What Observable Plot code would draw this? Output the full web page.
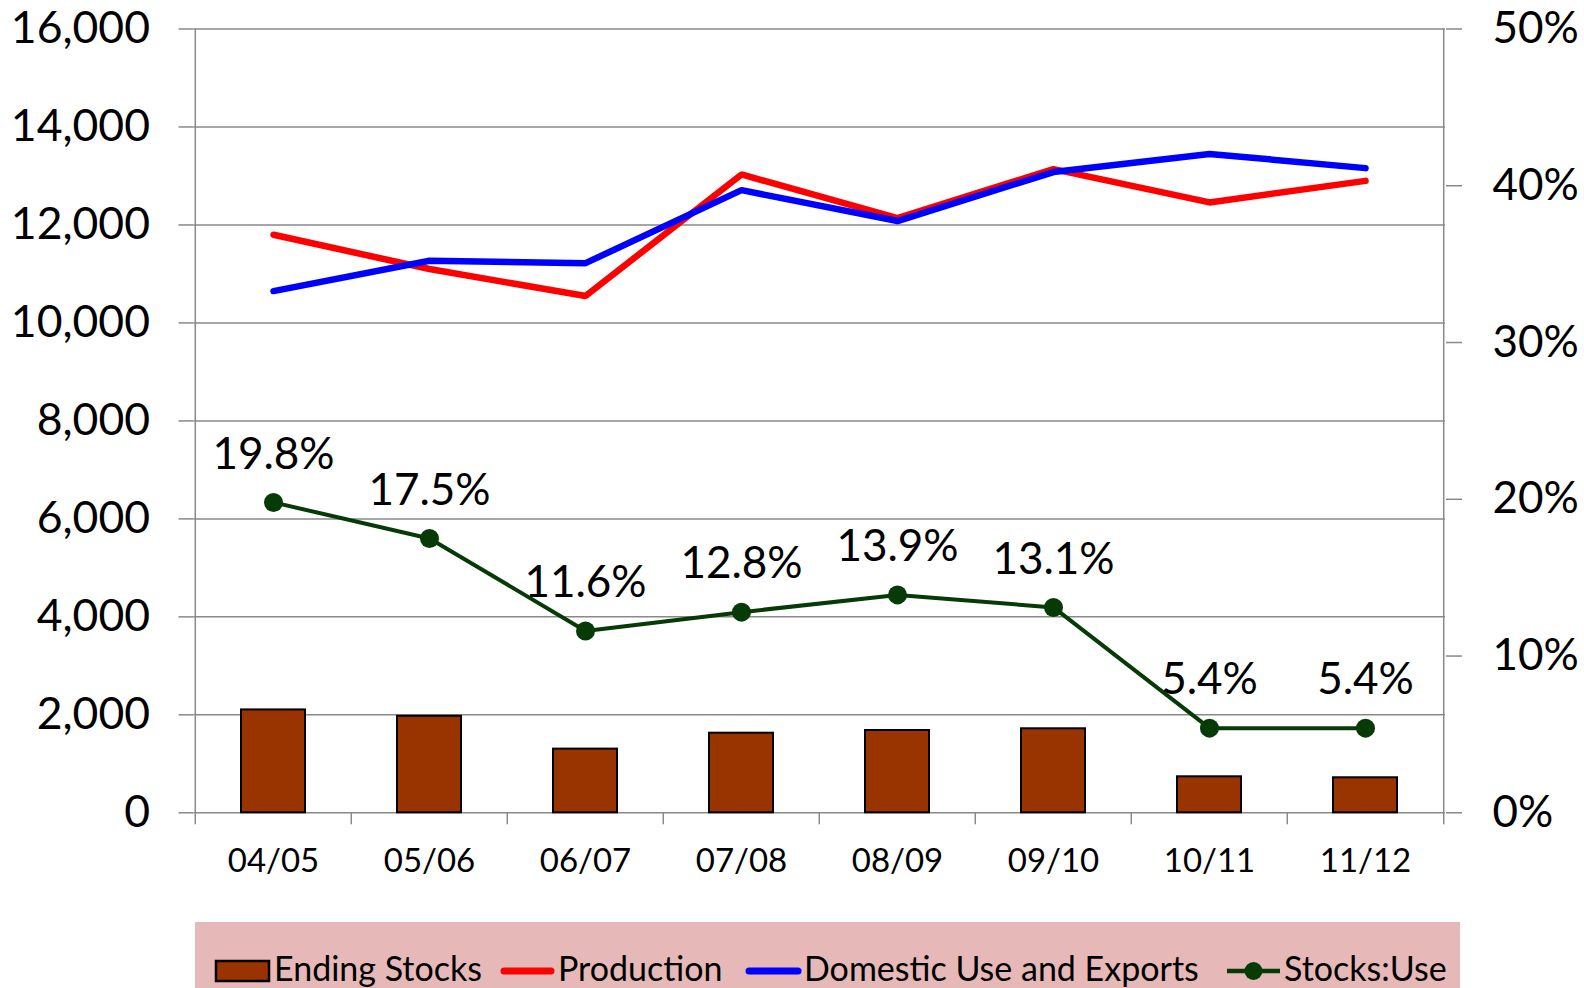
<!DOCTYPE html>
<html>
<head>
<meta charset="utf-8">
<script src="https://cdn.jsdelivr.net/npm/d3@7"></script>
<script src="https://cdn.jsdelivr.net/npm/@observablehq/plot@0.6"></script>
<style>
  html, body { margin: 0; padding: 0; background: #fff; }
  body { width: 1584px; height: 988px; overflow: hidden; position: relative; font-family: Lato, "Noto Sans", sans-serif; }
  #chart { position: absolute; left: 0; top: 0; }
  #legend { position: absolute; left: 195px; top: 922px; width: 1265px; height: 90px; background: #E6B9B8; }
  #legend svg { position: absolute; left: 0; top: 0; }
  .lt { position: absolute; top: 29px; font-size: 34px; line-height: 34px; color: #000; white-space: nowrap; }
</style>
</head>
<body>
<div id="chart"></div>
<div id="legend"></div>
<script>
// ---- data ----
const categories = ["04/05", "05/06", "06/07", "07/08", "08/09", "09/10", "10/11", "11/12"];
const endingStocks = [2100, 1970, 1300, 1625, 1680, 1715, 735, 715];
const production = [11800, 11100, 10550, 13030, 12140, 13140, 12460, 12900];
const domesticUse = [10650, 11270, 11220, 12710, 12080, 13080, 13450, 13160];
const stocksUse = [19.8, 17.5, 11.6, 12.8, 13.9, 13.1, 5.4, 5.4];
const leftTicks = [0, 2000, 4000, 6000, 8000, 10000, 12000, 14000, 16000];
const rightTicks = [0, 10, 20, 30, 40, 50];
const seriesNames = ["Ending Stocks", "Production", "Domestic Use and Exports", "Stocks:Use"];

// ---- layout ----
const W = 1584, H = 900;
const mL = 193.5, mR = 139, mT = 28.5, mB = H - 812.3;
const yMax = 16000, pMax = 50;
const k = yMax / pMax; // percent -> left-axis units
const step = (W - mL - mR) / categories.length;
const tickLenUnits = 12 / ((H - mT - mB) / yMax);
const grid = "#898989";
const green = "#063a06";

const rows = categories.map((c, i) => ({
  cat: c, stocks: endingStocks[i], prod: production[i], dom: domesticUse[i], su: stocksUse[i]
}));

const chart = Plot.plot({
  width: W, height: H,
  marginLeft: mL, marginRight: mR, marginTop: mT, marginBottom: mB,
  style: { fontFamily: "Lato, 'Noto Sans', sans-serif", background: "#fff", color: "#000", overflow: "visible" },
  x: { domain: categories, paddingInner: 0.59, paddingOuter: 0.295 },
  y: { domain: [0, yMax] },
  marks: [
    Plot.ruleY(leftTicks, { stroke: grid, strokeWidth: 1.5 }),
    Plot.ruleX([categories[0]], { dx: -step / 2, stroke: grid, strokeWidth: 1.5 }),
    Plot.ruleX([categories[categories.length - 1]], { dx: step / 2, stroke: grid, strokeWidth: 1.5 }),
    Plot.ruleX(categories, { x: d => d, y1: 0, y2: -tickLenUnits, dx: -step / 2, stroke: grid, strokeWidth: 1.5 }),
    Plot.ruleX([categories[categories.length - 1]], { x: d => d, y1: 0, y2: -tickLenUnits, dx: step / 2, stroke: grid, strokeWidth: 1.5 }),
    Plot.axisY({ anchor: "left", ticks: leftTicks, tickSize: 15, tickPadding: 29, tickFormat: d3.format(","),
      fontSize: 44.5, stroke: grid, strokeWidth: 1.5, fill: "#000", label: null }),
    Plot.axisY({ anchor: "right", ticks: rightTicks.map(p => p * k), tickSize: 16, tickPadding: 31,
      tickFormat: v => Math.round(v / k) + "%", fontSize: 44, stroke: grid, strokeWidth: 1.5, fill: "#000", label: null }),
    Plot.axisX({ anchor: "bottom", tickSize: 0, tickPadding: 36, fontSize: 33, fill: "#000", label: null }),
    Plot.barY(rows, { x: "cat", y: "stocks", fill: "#993300", stroke: "#000", strokeWidth: 2 }),
    Plot.lineY(rows, { x: "cat", y: "prod", stroke: "#FF0000", strokeWidth: 6.5, strokeLinecap: "round", strokeLinejoin: "miter" }),
    Plot.lineY(rows, { x: "cat", y: "dom", stroke: "#0000FF", strokeWidth: 6.5, strokeLinecap: "round", strokeLinejoin: "miter" }),
    Plot.lineY(rows, { x: "cat", y: d => d.su * k, stroke: green, strokeWidth: 4 }),
    Plot.dot(rows, { x: "cat", y: d => d.su * k, r: 9.5, fill: green, stroke: "none" }),
    Plot.text(rows, { x: "cat", y: d => d.su * k, text: d => d.su.toFixed(1) + "%", dy: -48, fontSize: 44, fill: "#000" })
  ]
});
document.getElementById("chart").appendChild(chart);

// ---- legend (HTML below the plot) ----
const legend = document.getElementById("legend");
const ns = "http://www.w3.org/2000/svg";
const sw = document.createElementNS(ns, "svg");
sw.setAttribute("width", 1265); sw.setAttribute("height", 90);
function el(tag, attrs) { const e = document.createElementNS(ns, tag); for (const a in attrs) e.setAttribute(a, attrs[a]); sw.appendChild(e); return e; }
const items = [
  { name: seriesNames[0], x0: 21, x1: 74, tx: 79, kind: "bar", color: "#993300" },
  { name: seriesNames[1], x0: 306, x1: 359, tx: 363, kind: "line", color: "#FF0000" },
  { name: seriesNames[2], x0: 551, x1: 606, tx: 609, kind: "line", color: "#0000FF" },
  { name: seriesNames[3], x0: 1032, x1: 1085, tx: 1089, kind: "dot", color: green }
];
items.forEach(it => {
  if (it.kind === "bar") {
    el("rect", { x: it.x0, y: 39, width: it.x1 - it.x0, height: 20, fill: it.color, stroke: "#000", "stroke-width": 2.5 });
  } else if (it.kind === "line") {
    el("line", { x1: it.x0 + 3, x2: it.x1 - 3, y1: 49, y2: 49, stroke: it.color, "stroke-width": 7, "stroke-linecap": "round" });
  } else {
    el("line", { x1: it.x0, x2: it.x1, y1: 49, y2: 49, stroke: it.color, "stroke-width": 4.5 });
    el("circle", { cx: (it.x0 + it.x1) / 2, cy: 49, r: 9, fill: it.color });
  }
  const t = document.createElement("div");
  t.className = "lt"; t.style.left = it.tx + "px"; t.textContent = it.name;
  legend.appendChild(t);
});
legend.appendChild(sw);
</script>
</body>
</html>
